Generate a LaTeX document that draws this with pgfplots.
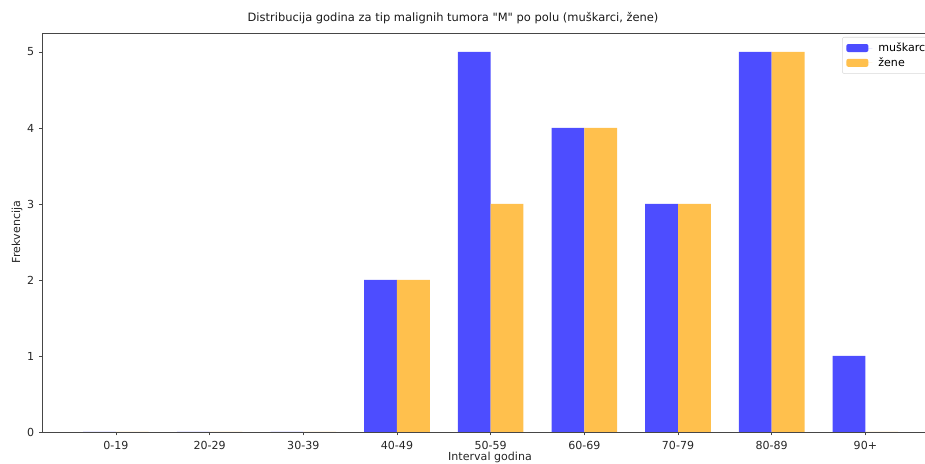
\documentclass[border=0pt]{standalone}
\usepackage{pgfplots}
\pgfplotsset{compat=1.18}
\usepackage{fontspec}
\setmainfont{DejaVu Sans}
\newfontfamily\qfont{DejaVu Sans}[Ligatures=TeXOff]
\definecolor{mblue}{RGB}{77,77,255}
\definecolor{morange}{RGB}{255,192,77}
\definecolor{spine}{RGB}{70,70,70}
\begin{document}
\begin{tikzpicture}
\useasboundingbox (0,0) rectangle (693.75pt,348pt);
\clip (0,0) rectangle (693.75pt,348pt);
\begin{axis}[
  at={(31.8pt,24pt)}, anchor=south west,
  scale only axis,
  width=672.4pt, height=299.25pt,
  xmin=-0.785, xmax=8.785,
  ymin=0, ymax=5.25,
  xtick={0,1,2,3,4,5,6,7,8},
  xticklabels={0-19,20-29,30-39,40-49,50-59,60-69,70-79,80-89,90+},
  ytick={0,1,2,3,4,5},
  tick align=outside,
  tick pos=lower,
  major tick length=2.6pt,
  tick style={spine, line width=0.6pt},
  axis line style={spine, line width=0.6pt},
  axis lines*=left,
  /pgf/number format/assume math mode=true,
  tick label style={font=\fontsize{8.3}{9}\selectfont, text=black!85},
  xticklabel style={yshift=-1pt},
  legend style={at={(rel axis cs:0.892,0.99)}, anchor=north west,
    draw=black!15, rounded corners=1.5pt, font=\fontsize{8.3}{9}\selectfont,
    row sep=-1pt, inner xsep=3pt, inner ysep=2pt,
    nodes={inner xsep=4.5pt}},
  legend cell align=left,
  legend image code/.code={\fill[#1] (0pt,-3pt) rectangle (16.5pt,3pt); \path (0pt,0pt) -- (19.5pt,0pt);},
]
\addplot[ybar, bar width=0.35, bar shift=-0.175, fill=mblue, draw=none]
  coordinates {(0,0) (1,0) (2,0) (3,2) (4,5) (5,4) (6,3) (7,5) (8,1)};
\addplot[ybar, bar width=0.35, bar shift=0.175, fill=morange, draw=none]
  coordinates {(0,0) (1,0) (2,0) (3,2) (4,3) (5,4) (6,3) (7,5) (8,0)};
\draw[spine, line width=0.6pt] (rel axis cs:0,1) -- (rel axis cs:1,1);
\draw[spine, line width=0.6pt] (rel axis cs:0,0) -- (rel axis cs:1,0);
\legend{muškarci, žene}
\end{axis}
\node[font=\fontsize{8.6}{10}\selectfont, text=black!90] at (339.75pt,334.5pt) {Distribucija godina za tip malignih tumora {\qfont"}M{\qfont"} po polu (muškarci, žene)};
\node[font=\fontsize{8.3}{9}\selectfont, text=black!85] at (367.5pt,5.25pt) {Interval godina};
\node[font=\fontsize{8.3}{9}\selectfont, text=black!85, rotate=90] at (12.75pt,174pt) {Frekvencija};
\end{tikzpicture}
\end{document}
